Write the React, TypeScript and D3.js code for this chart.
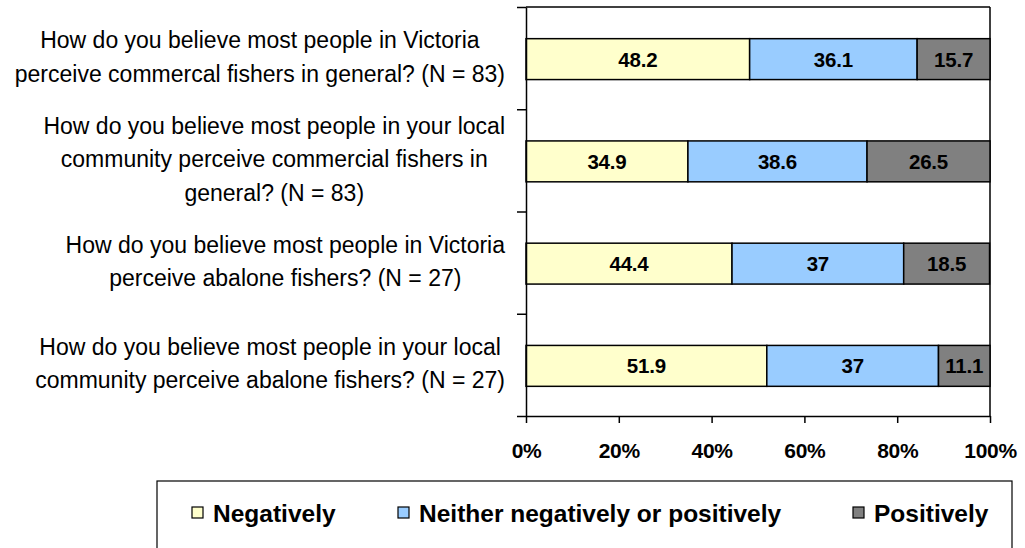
import React, { useEffect, useRef } from "react";
import { select, scaleLinear, scaleBand, axisBottom, axisLeft, stack } from "d3";

const questions = [
  ["How do you believe most people in Victoria", "perceive commercal fishers in general? (N = 83)"],
  ["How do you believe most people in your local", "community perceive commercial fishers in", "general? (N = 83)"],
  ["How do you believe most people in Victoria", "perceive abalone fishers? (N = 27)"],
  ["How do you believe most people in your local", "community perceive abalone fishers? (N = 27)"],
];
const seriesNames = ["Negatively", "Neither negatively or positively", "Positively"];
const negatively = [48.2, 34.9, 44.4, 51.9];
const neither = [36.1, 38.6, 37, 37];
const positively = [15.7, 26.5, 18.5, 11.1];
const xTicks = [0, 20, 40, 60, 80, 100];
const colors = ["#FFFFCC", "#99CCFF", "#808080"];

const FONT = "Liberation Sans, Arial, Helvetica, sans-serif";

const App = () => {
  const svgRef = useRef<SVGSVGElement>(null);

  useEffect(() => {
    const svg = select(svgRef.current);
    svg.selectAll("*").remove();

    const left = 526;
    const right = 990;
    const top = 7;
    const bottom = 416;

    const rows = questions.map((q, i) => ({
      key: String(i),
      Negatively: negatively[i],
      "Neither negatively or positively": neither[i],
      Positively: positively[i],
    }));
    const stacked = stack<any>().keys(seriesNames)(rows);

    const x = scaleLinear().domain([0, 100]).range([left, right]);
    const y = scaleBand<string>()
      .domain(rows.map((r) => r.key))
      .range([top, bottom])
      .paddingInner(0.6)
      .paddingOuter(0.3);
    const yEdges = scaleLinear().domain([0, questions.length]).range([top, bottom]);

    // plot frame (top + right)
    svg.append("line").attr("x1", left).attr("x2", right).attr("y1", top).attr("y2", top)
      .attr("stroke", "#000").attr("stroke-width", 1.5);
    svg.append("line").attr("x1", right).attr("x2", right).attr("y1", top).attr("y2", bottom)
      .attr("stroke", "#000").attr("stroke-width", 1.5);

    // bars
    const groups = svg.selectAll("g.series").data(stacked).enter().append("g")
      .attr("class", "series")
      .attr("fill", (_d, i) => colors[i]);

    groups.selectAll("rect")
      .data((d) => d.map((v) => ({ v, key: v.data.key })))
      .enter()
      .append("rect")
      .attr("x", (d) => x(d.v[0]))
      .attr("width", (d) => x(d.v[1]) - x(d.v[0]))
      .attr("y", (d) => (y(d.key) as number) + 1)
      .attr("height", y.bandwidth())
      .attr("stroke", "#000")
      .attr("stroke-width", 1.5);

    groups.selectAll("text")
      .data((d) => d.map((v) => ({ v, key: v.data.key })))
      .enter()
      .append("text")
      .attr("x", (d) => (x(d.v[0]) + x(d.v[1])) / 2)
      .attr("y", (d) => (y(d.key) as number) + 1 + y.bandwidth() / 2)
      .attr("dy", "0.36em")
      .attr("text-anchor", "middle")
      .attr("fill", "#000")
      .attr("font-family", FONT)
      .attr("font-weight", "bold")
      .attr("font-size", 20.5)
      .attr("letter-spacing", -0.2)
      .text((d) => String(+(d.v[1] - d.v[0]).toFixed(1)));

    // y axis
    const yAxis = svg.append("g")
      .attr("transform", `translate(${left},0)`)
      .call(axisLeft(yEdges).tickValues([0, 1, 2, 3, 4]).tickFormat(() => "").tickSize(9).tickSizeOuter(0));
    yAxis.selectAll("path,line").attr("stroke", "#000").attr("stroke-width", 1.5);

    // x axis
    const xAxis = svg.append("g")
      .attr("transform", `translate(0,${bottom})`)
      .call(axisBottom(x).tickValues(xTicks).tickFormat((d: any) => `${d}%`).tickSize(7).tickSizeOuter(0).tickPadding(20));
    xAxis.selectAll("path,line").attr("stroke", "#000").attr("stroke-width", 1.5);
    xAxis.selectAll("text")
      .attr("font-family", FONT)
      .attr("font-weight", "bold")
      .attr("font-size", 21)
      .attr("letter-spacing", -0.3)
      .attr("fill", "#000");

    // category labels, each block centred, widest line ending at 505
    const lineH = 33.5;
    questions.forEach((lines, i) => {
      const cy = yEdges(i + 0.5) - 1.5;
      const g = svg.append("g");
      const texts = g.selectAll("text").data(lines).enter().append("text")
        .attr("y", (_d, j) => cy + (j - (lines.length - 1) / 2) * lineH)
        .attr("dy", "0.36em")
        .attr("text-anchor", "middle")
        .attr("font-family", FONT)
        .attr("font-size", 23)
        .attr("fill", "#000")
        .text((d) => d);
      let w = 0;
      texts.each(function () {
        w = Math.max(w, (this as SVGTextElement).getComputedTextLength());
      });
      texts.attr("x", 505 - w / 2);
    });

    // legend
    svg.append("rect")
      .attr("x", 157).attr("y", 481).attr("width", 855).attr("height", 80)
      .attr("fill", "#fff").attr("stroke", "#000").attr("stroke-width", 1.2);
    const legendX = [192, 398, 853];
    seriesNames.forEach((name, i) => {
      svg.append("rect")
        .attr("x", legendX[i]).attr("y", 507).attr("width", 11).attr("height", 11)
        .attr("fill", colors[i]).attr("stroke", "#000").attr("stroke-width", 1.2);
      svg.append("text")
        .attr("x", legendX[i] + 21).attr("y", 513)
        .attr("dy", "0.36em")
        .attr("font-family", FONT)
        .attr("font-weight", "bold")
        .attr("font-size", 24.5)
        .attr("fill", "#000")
        .text(name);
    });
  }, []);

  return (
    <div style={{ position: "absolute", left: 0, top: 0 }}>
      <svg ref={svgRef} width={1025} height={548} style={{ display: "block", background: "#fff" }} />
    </div>
  );
};

export default App;
